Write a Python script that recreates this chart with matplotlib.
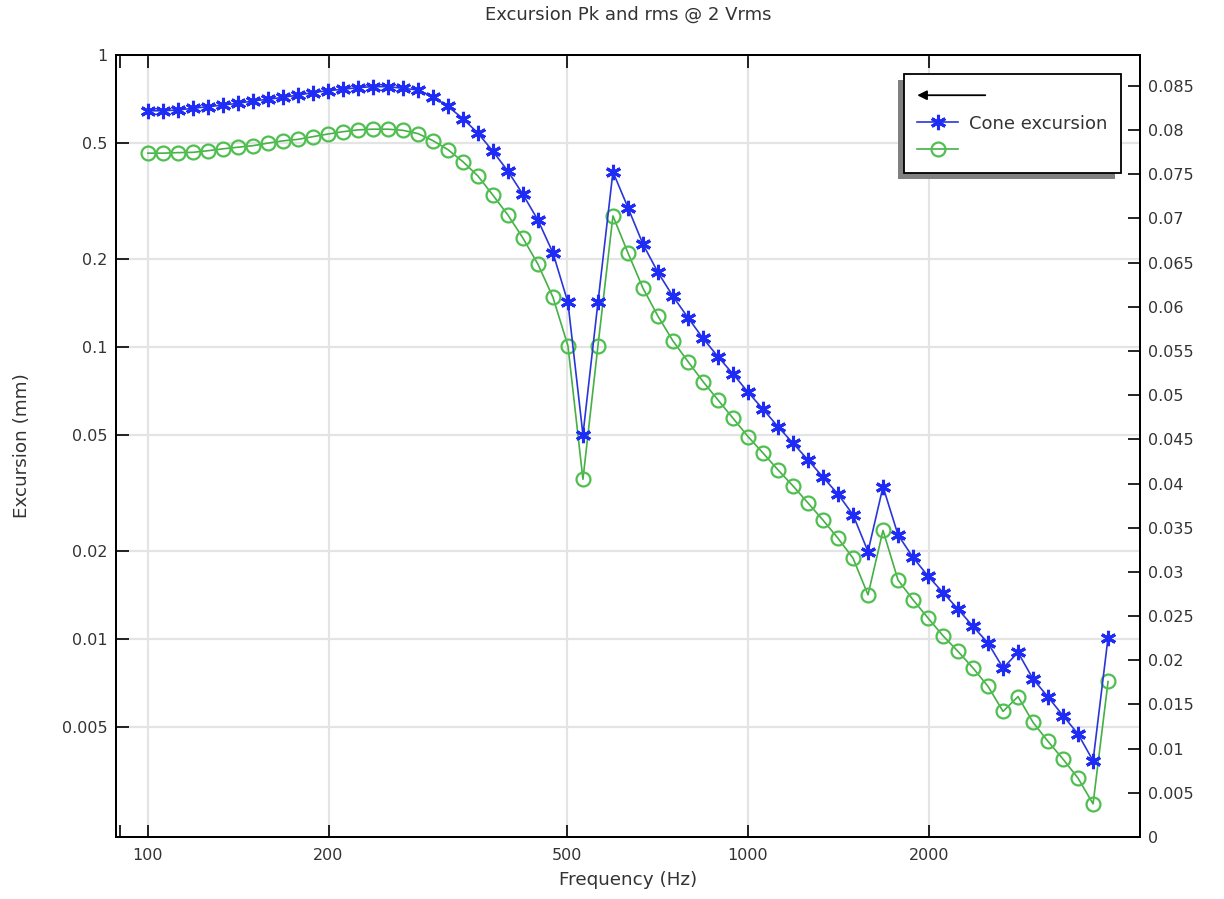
import matplotlib
matplotlib.use("Agg")
import matplotlib.pyplot as plt
from matplotlib.lines import Line2D
from matplotlib.patches import FancyArrowPatch, Rectangle
from matplotlib.legend_handler import HandlerBase
from matplotlib.ticker import FixedLocator, FuncFormatter, NullFormatter

# ---------------- data ----------------
freq_hz = [100.0, 105.93, 112.2, 118.85, 125.89, 133.35, 141.25, 149.62, 158.49, 167.88,
           177.83, 188.36, 199.53, 211.35, 223.87, 237.14, 251.19, 266.07, 281.84, 298.54,
           316.23, 334.97, 354.81, 375.84, 398.11, 421.7, 446.68, 473.15, 501.19, 530.88,
           562.34, 595.66, 630.96, 668.34, 707.95, 749.89, 794.33, 841.4, 891.25, 944.06,
           1000.0, 1059.3, 1122.0, 1188.5, 1258.9, 1333.5, 1412.5, 1496.2, 1584.9, 1678.8,
           1778.3, 1883.6, 1995.3, 2113.5, 2238.7, 2371.4, 2511.9, 2660.7, 2818.4, 2985.4,
           3162.3, 3349.7, 3548.1, 3758.4, 3981.1]

excursion_pk = [0.644, 0.644, 0.648, 0.657, 0.665, 0.674, 0.683, 0.696, 0.705, 0.716,
                0.729, 0.743, 0.755, 0.763, 0.773, 0.779, 0.779, 0.769, 0.759, 0.718,
                0.667, 0.605, 0.540, 0.468, 0.400, 0.333, 0.272, 0.210, 0.142, 0.050,
                0.142, 0.398, 0.300, 0.225, 0.180, 0.149, 0.126, 0.107, 0.0926, 0.0808,
                0.0700, 0.0612, 0.0533, 0.0468, 0.0410, 0.0358, 0.0313, 0.0266, 0.0199, 0.0332,
                0.0227, 0.0190, 0.0164, 0.0144, 0.01264, 0.01102, 0.00967, 0.00794, 0.00898, 0.00728,
                0.00632, 0.00545, 0.00472, 0.00382, 0.0101]

excursion_rms = [0.461, 0.461, 0.463, 0.464, 0.470, 0.477, 0.483, 0.489, 0.499, 0.508,
                 0.514, 0.525, 0.536, 0.546, 0.554, 0.557, 0.557, 0.552, 0.538, 0.509,
                 0.474, 0.431, 0.385, 0.331, 0.283, 0.236, 0.192, 0.148, 0.1008, 0.0352,
                 0.1008, 0.281, 0.210, 0.159, 0.1274, 0.1048, 0.0891, 0.0761, 0.0658, 0.0570,
                 0.0493, 0.0433, 0.0379, 0.0334, 0.0292, 0.0255, 0.0221, 0.0189, 0.01415, 0.0235,
                 0.0159, 0.0136, 0.01178, 0.01024, 0.00905, 0.00794, 0.00687, 0.00564, 0.00634, 0.00517,
                 0.00445, 0.00387, 0.00333, 0.00272, 0.00714]

x_ticks = [100, 200, 500, 1000, 2000]
x_tick_labels = ["100", "200", "500", "1000", "2000"]
y_ticks = [1, 0.5, 0.2, 0.1, 0.05, 0.02, 0.01, 0.005]
y_tick_labels = ["1", "0.5", "0.2", "0.1", "0.05", "0.02", "0.01", "0.005"]
right_ticks = [i * 0.005 for i in range(18)]

title = "Excursion Pk and rms @ 2 Vrms"
legend_labels = ["", "Cone excursion", ""]

# ---------------- figure ----------------
W, H = 1224, 899
fig = plt.figure(figsize=(W / 100, H / 100), dpi=100)
plt.rcParams["font.family"] = ["DejaVu Sans"]
FS = 11.5
FS_LAB = 13.2
L, R, T, B = 116, 1140, 55, 837
ax = fig.add_axes([L / W, 1 - B / H, (R - L) / W, (B - T) / H])

blue_line = "#2a36d8"
blue_mk = "#1e2cf5"
green_line = "#45b045"
green_mk = "#4fbf4f"

ax.plot(freq_hz, excursion_pk, color=blue_line, lw=1.2, marker=(6, 2, 0),
        ms=11, mew=2.2, mec=blue_mk, zorder=4, label=legend_labels[1])
ax.plot(freq_hz, excursion_rms, color=green_line, lw=1.2, marker="o",
        ms=10, mew=1.6, mec=green_mk, mfc="none", zorder=3, label=legend_labels[2])

ax.set_xscale("log")
ax.set_yscale("log")
ax.set_xlim(88.5, 4500)
ax.set_ylim(0.002094, 1.0)

ax.xaxis.set_major_locator(FixedLocator(x_ticks))
ax.set_xticklabels(x_tick_labels)
ax.xaxis.set_minor_locator(FixedLocator([90]))
ax.xaxis.set_minor_formatter(NullFormatter())
ax.yaxis.set_major_locator(FixedLocator(y_ticks))
ax.set_yticklabels(y_tick_labels)
ax.yaxis.set_minor_locator(FixedLocator([]))

ax.grid(True, which="major", color="#e4e4e4", lw=1.6, zorder=0)
ax.set_axisbelow(True)
ax.tick_params(axis="both", which="both", direction="in", length=9, width=1.2,
               labelsize=FS, colors="black", labelcolor="#333333")
ax.tick_params(axis="x", which="both", top=True, pad=8)
ax.tick_params(axis="y", which="both", right=False, pad=6)
for s in ax.spines.values():
    s.set_linewidth(1.4)

ax.set_xlabel("Frequency (Hz)", fontsize=FS_LAB, color="#333333", labelpad=6)
ax.set_ylabel("Excursion (mm)", fontsize=FS_LAB, color="#333333", labelpad=22)
fig.text((L + R) / 2 / W, 1 - 15 / H, title, ha="center", va="center",
         fontsize=13, color="#333333")

ax2 = ax.twinx()
ax2.set_ylim(0, 0.0885)
ax2.yaxis.set_major_locator(FixedLocator(right_ticks))
ax2.yaxis.set_major_formatter(FuncFormatter(lambda v, p: f"{round(v, 3):g}"))
ax2.tick_params(axis="y", direction="in", length=9, width=1.2, labelsize=FS,
                labelcolor="#333333", pad=6)
for s in ax2.spines.values():
    s.set_linewidth(1.4)


class ArrowHandler(HandlerBase):
    def create_artists(self, legend, orig_handle, xdescent, ydescent, width,
                       height, fontsize, trans):
        y = height / 2 - ydescent
        x0 = -xdescent
        arr = FancyArrowPatch((x0 + 49, y), (x0, y), arrowstyle="-|>",
                              mutation_scale=14, lw=1.3, color="black",
                              shrinkA=0, shrinkB=0, transform=trans)
        return [arr]


arrow_handle = Line2D([], [], color="black")
handles = [arrow_handle] + ax.get_lines()
leg = ax.legend(handles, legend_labels, loc="upper right",
                bbox_to_anchor=(0.9814, 0.9757), borderaxespad=0,
                fontsize=13, frameon=True, fancybox=False, edgecolor="black",
                framealpha=1, handlelength=2.27, handletextpad=0.6,
                labelspacing=0.5, borderpad=0.75,
                handler_map={arrow_handle: ArrowHandler()})
leg.get_frame().set_linewidth(1.3)
for t in leg.get_texts():
    t.set_color("#333333")
leg.set_zorder(10)

fig.canvas.draw()
bb = leg.get_window_extent()
shadow = Rectangle((bb.x0 - 6, bb.y0 - 6), bb.width, bb.height, transform=None,
                   facecolor="#808080", edgecolor="none", zorder=9)
fig.add_artist(shadow)
leg.remove()
fig.add_artist(leg)

fig.savefig("out.png", dpi=100)
